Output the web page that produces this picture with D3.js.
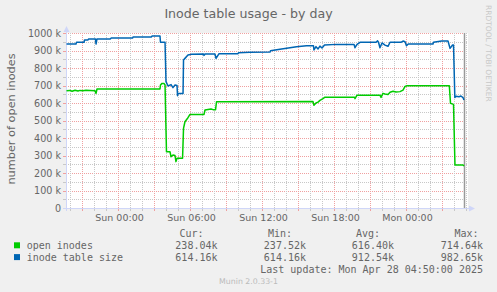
<!DOCTYPE html>
<html><head><meta charset="utf-8">
<script src="https://cdn.jsdelivr.net/npm/d3@7"></script>
<style>body{margin:0;background:#f0f0f0;overflow:hidden}</style>
</head><body><svg id="c" width="497" height="292"></svg>
<script>
const title = "Inode table usage - by day";
const yLabel = "number of open inodes";
const seriesNames = ["open inodes", "inode table size"];
const seriesColors = ["#00CC00", "#0066B3"];
// sample times in hours relative to Sun 2025-04-27 00:00, values in k
const openHours = [-4.29,-4.0,-3.83,-3.58,-3.33,-3.17,-2.92,-2.67,-2.33,-1.92,-1.83,-1.75,3.5,3.54,3.67,3.83,3.92,4.04,4.33,4.42,4.58,4.75,4.83,4.92,5.38,5.46,5.58,5.83,6.0,7.17,7.25,7.75,7.92,8.13,8.21,16.25,16.33,16.5,16.67,16.83,17.08,17.25,19.71,19.75,19.92,21.83,21.92,22.08,22.25,22.5,22.67,22.92,23.17,23.5,23.75,23.92,24.08,27.61,27.71,27.96,28.08,28.75,28.83];
const openValues = [670,672,667,673,669,672,670,673,672,670,655,680,680,703,712,712,703,322,322,293,303,300,265,284,284,455,493,516,535,535,560,566,562,562,607,608,587,600,605,615,625,633,633,625,645,645,632,655,652,648,661,667,663,665,674,695,699,699,598,592,246,246,240];
const tableHours = [-4.29,-3.5,-3.46,-2.83,-2.79,-2.5,-2.46,-1.88,-1.83,-1.75,-0.63,-0.58,1.21,1.25,2.79,2.83,3.5,3.54,3.92,4.0,4.17,4.42,4.58,4.75,4.92,4.96,5.0,5.42,5.46,5.58,5.83,6.13,7.13,7.17,7.25,8.08,8.17,8.42,10.0,10.04,11.0,12.67,12.71,13.63,14.33,14.88,15.71,16.29,16.33,16.5,16.67,16.83,17.0,17.21,18.21,19.67,19.75,19.92,20.17,21.5,21.63,21.71,21.83,22.0,22.25,22.5,22.67,23.58,23.75,23.92,24.04,24.19,26.25,26.29,26.97,27.5,27.67,27.88,27.96,28.07,28.17,28.42,28.58,28.75,28.83];
const tableValues = [937,937,947,947,960,960,966,966,937,966,966,971,971,977,977,983,983,947,947,722,697,705,688,703,700,642,655,655,846,855,874,878,880,872,880,880,855,882,882,887,890,891,899,909,916,922,927,927,903,922,909,925,914,931,935,935,916,935,947,947,955,947,916,943,931,924,947,947,954,950,927,937,937,947,954,954,912,931,931,632,638,636,640,631,617];
const yTicks = [0,100,200,300,400,500,600,700,800,900,1000];
const yTickLabels = ["0","100 k","200 k","300 k","400 k","500 k","600 k","700 k","800 k","900 k","1000 k"];
const xLabelHours = [0,6,12,18,24];
const xTickLabels = ["Sun 00:00","Sun 06:00","Sun 12:00","Sun 18:00","Mon 00:00"];
const legendHeaders = ["Cur:","Min:","Avg:","Max:"];
const openStats = ["238.04k","237.52k","616.40k","714.64k"];
const tableStats = ["614.16k","614.16k","912.54k","982.65k"];
const lastUpdate = "Last update: Mon Apr 28 04:50:00 2025";
const lastUpdateHour = 28.833;
const footer = "Munin 2.0.33-1";
const watermark = "RRDTOOL / TOBI OETIKER";

const base = new Date(2025, 3, 27, 0, 0, 0).getTime();
const t = h => new Date(base + h * 3600e3);

const svg = d3.select("#c");
const L = 66, R = 466, T = 33, B = 208;
const x = d3.scaleTime().domain([t(-4.3333), t(29)]).range([L, R]);
const y = d3.scaleLinear().domain([0, 1000000]).range([B, T]);
const sans = "DejaVu Sans, sans-serif", mono = "DejaVu Sans Mono, monospace";
const fontColor = "#666";

svg.append("rect").attr("width", 497).attr("height", 292).attr("fill", "#f0f0f0");
svg.append("rect").attr("x", L).attr("y", T).attr("width", R - L + 2).attr("height", B - T).attr("fill", "#fff");

// grid
const g = svg.append("g").attr("shape-rendering", "crispEdges");
const minorY = d3.range(0, 1000001, 50000);
minorY.forEach(v => {
  const major = v % 100000 === 0;
  const yy = Math.round(y(v)) + 0.5;
  if (v > 0) g.append("line").attr("x1", L).attr("x2", R + 2).attr("y1", yy).attr("y2", yy)
    .attr("stroke", major ? "#f0a0a0" : "#c8c8c8").attr("stroke-dasharray", "1,1");
  g.append("line").attr("x1", L - 3).attr("x2", L).attr("y1", yy).attr("y2", yy)
    .attr("stroke", major ? "#f0a0a0" : "#c8c8c8");
});
const hrs = d3.range(-4, 29.5, 1);
hrs.forEach(h => {
  const major = ((h % 3) + 3) % 3 === 0;
  const xx = Math.round(x(t(h))) + 0.5;
  g.append("line").attr("x1", xx).attr("x2", xx).attr("y1", T).attr("y2", B)
    .attr("stroke", major ? "#f0a0a0" : "#c8c8c8").attr("stroke-dasharray", "1,1");
  g.append("line").attr("x1", xx).attr("x2", xx).attr("y1", B).attr("y2", B + 3)
    .attr("stroke", major ? "#f0a0a0" : "#c8c8c8");
});

// axes
const axisColor = "#CFD6F8";
g.append("line").attr("x1", L + 0.5).attr("x2", L + 0.5).attr("y1", T - 3).attr("y2", B + 3).attr("stroke", axisColor);
g.append("line").attr("x1", L - 3).attr("x2", R + 4).attr("y1", B + 0.5).attr("y2", B + 0.5).attr("stroke", axisColor);
svg.append("path").attr("d", `M${L + 0.5},${T - 7} L${L - 2.5},${T - 1} L${L + 3.5},${T - 1} Z`).attr("fill", axisColor);
svg.append("path").attr("d", `M${R + 9},${B + 0.5} L${R + 3},${B - 2.5} L${R + 3},${B + 3.5} Z`).attr("fill", axisColor);

// y tick labels
yTicks.forEach((v, i) => {
  svg.append("text").attr("x", 61).attr("y", y(v * 1000) + 3.5).attr("text-anchor", "end")
    .attr("font-family", sans).attr("font-size", 9.6).attr("fill", fontColor).text(yTickLabels[i]);
});
// x tick labels
xLabelHours.forEach((h, i) => {
  svg.append("text").attr("x", x(t(h)) + 1.5).attr("y", 221).attr("text-anchor", "middle")
    .attr("font-family", sans).attr("font-size", 9.5).attr("fill", fontColor).text(xTickLabels[i]);
});

// now line
svg.append("line").attr("x1", x(t(lastUpdateHour)) + 0.5).attr("x2", x(t(lastUpdateHour)) + 0.5)
  .attr("y1", T).attr("y2", B).attr("stroke", "#999").attr("stroke-width", 1.5);

// series
const line = d3.line().x(d => x(t(d[0]))).y(d => y(d[1] * 1000));
const series = [d3.zip(openHours, openValues), d3.zip(tableHours, tableValues)];
series.forEach((s, i) => {
  svg.append("path").datum(s).attr("d", line).attr("fill", "none")
    .attr("stroke", seriesColors[i]).attr("stroke-width", 1.5).attr("stroke-linejoin", "round");
});

// title & labels
svg.append("text").attr("x", 248.5).attr("y", 18).attr("text-anchor", "middle")
  .attr("font-family", sans).attr("font-size", 12.6).attr("fill", fontColor).text(title);
svg.append("text").attr("transform", "translate(15,119) rotate(-90)").attr("text-anchor", "middle")
  .attr("font-family", sans).attr("font-size", 11.3).attr("fill", fontColor).text(yLabel);
svg.append("text").attr("transform", "translate(486,5) rotate(90)").attr("text-anchor", "start")
  .attr("font-family", sans).attr("font-size", 7.5).attr("fill", "#c8c8c8").text(watermark);

// legend
const headerRight = [203.5, 292, 380, 478.5];
const valueRight = [217.5, 306, 394, 483];
legendHeaders.forEach((h, i) => {
  svg.append("text").attr("x", headerRight[i]).attr("y", 237).attr("text-anchor", "end")
    .attr("font-family", mono).attr("font-size", 10).attr("fill", fontColor).text(h);
});
[openStats, tableStats].forEach((stats, r) => {
  const yy = 249 + r * 11.8;
  svg.append("rect").attr("x", 14).attr("y", yy - 6.7).attr("width", 6).attr("height", 6).attr("fill", seriesColors[r]);
  svg.append("text").attr("x", 26.7).attr("y", yy).attr("font-family", mono).attr("font-size", 10)
    .attr("fill", fontColor).text(seriesNames[r]);
  stats.forEach((v, i) => {
    svg.append("text").attr("x", valueRight[i]).attr("y", yy).attr("text-anchor", "end")
      .attr("font-family", mono).attr("font-size", 10).attr("fill", fontColor).text(v);
  });
});
svg.append("text").attr("x", 483).attr("y", 272.7).attr("text-anchor", "end")
  .attr("font-family", mono).attr("font-size", 10).attr("fill", fontColor).text(lastUpdate);
svg.append("text").attr("x", 248.5).attr("y", 284).attr("text-anchor", "middle")
  .attr("font-family", sans).attr("font-size", 7.8).attr("fill", "#bbb").text(footer);
</script></body></html>
